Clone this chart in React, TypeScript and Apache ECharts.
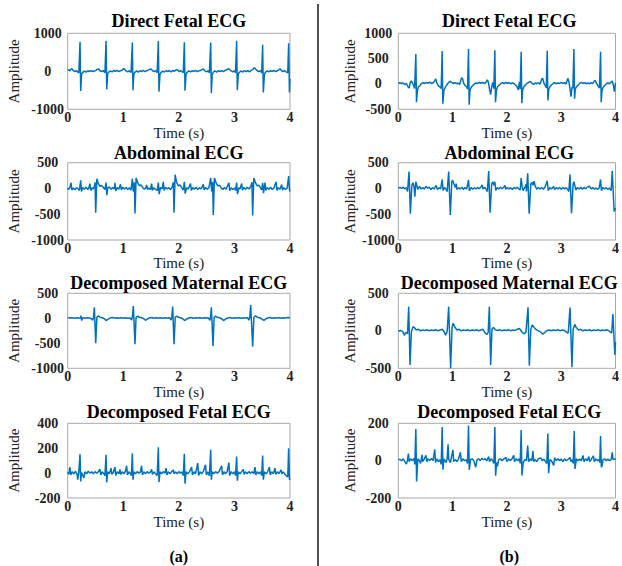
import React, { useEffect, useRef } from "react";
import * as echarts from "echarts";

type P = [number, number];

// ---------- data (time in s, amplitude) ----------
const directFetalA: P[] = [
  [0,25],[0.02,40],[0.04,10],[0.06,55],[0.08,65],[0.1,20],[0.13,-5],[0.16,15],[0.18,-20],[0.2,-45],[0.222,780],[0.234,-520],[0.25,-70],[0.27,-30],[0.3,5],[0.33,-20],[0.36,15],[0.39,-10],[0.42,20],[0.45,-5],[0.48,10],[0.51,25],[0.54,55],[0.56,60],[0.58,15],[0.61,-10],[0.64,20],[0.67,-40],[0.69,800],[0.702,-475],[0.72,-60],[0.74,-20],[0.77,10],[0.8,-15],[0.83,20],[0.86,0],[0.89,25],[0.92,-10],[0.95,15],[0.98,30],[1.0,65],[1.02,60],[1.05,10],[1.08,-15],[1.11,15],[1.14,-35],[1.163,755],[1.175,-500],[1.19,-75],[1.21,-25],[1.24,10],[1.27,-20],[1.3,15],[1.33,-5],[1.36,25],[1.39,-10],[1.42,15],[1.45,30],[1.48,55],[1.5,60],[1.53,15],[1.56,-10],[1.59,20],[1.61,-40],[1.631,800],[1.643,-535],[1.66,-80],[1.68,-30],[1.71,5],[1.74,-20],[1.77,20],[1.8,-5],[1.83,15],[1.86,-15],[1.89,20],[1.92,0],[1.95,40],[1.98,30],[2.01,-10],[2.04,15],[2.07,-20],[2.08,-40],[2.099,765],[2.111,-510],[2.13,-70],[2.15,-25],[2.18,10],[2.21,-15],[2.24,20],[2.27,-5],[2.3,25],[2.33,-10],[2.36,15],[2.39,20],[2.42,50],[2.44,60],[2.47,10],[2.5,-15],[2.53,15],[2.55,-45],[2.573,755],[2.585,-580],[2.6,-80],[2.62,-25],[2.65,10],[2.68,-20],[2.71,15],[2.74,-5],[2.77,20],[2.8,-10],[2.83,25],[2.86,40],[2.89,65],[2.91,55],[2.94,10],[2.97,-15],[3.0,15],[3.02,-40],[3.04,805],[3.052,-500],[3.07,-70],[3.09,-25],[3.12,10],[3.15,-20],[3.18,20],[3.21,-5],[3.24,15],[3.27,-15],[3.3,25],[3.33,45],[3.36,95],[3.38,60],[3.41,15],[3.44,-10],[3.47,20],[3.49,-45],[3.508,700],[3.52,-555],[3.54,-75],[3.56,-25],[3.59,10],[3.62,-15],[3.65,20],[3.68,-5],[3.71,25],[3.74,-10],[3.77,15],[3.8,40],[3.82,65],[3.84,30],[3.87,-10],[3.9,15],[3.93,-15],[3.96,-40],[3.976,735],[3.99,-560],[4.0,-200]
];

const directFetalB: P[] = [
  [0,10],[0.03,25],[0.06,5],[0.09,20],[0.12,-15],[0.15,10],[0.18,-60],[0.2,-80],[0.22,30],[0.24,60],[0.26,20],[0.28,-20],[0.3,-90],[0.323,590],[0.335,-360],[0.35,-150],[0.37,-60],[0.4,-30],[0.43,10],[0.46,25],[0.49,10],[0.52,30],[0.55,15],[0.58,35],[0.61,10],[0.64,25],[0.67,60],[0.69,100],[0.71,20],[0.74,-40],[0.77,-60],[0.79,-90],[0.808,650],[0.82,-390],[0.84,-120],[0.86,-80],[0.89,-20],[0.92,20],[0.95,55],[0.98,30],[1.01,10],[1.04,25],[1.07,5],[1.1,20],[1.13,-10],[1.16,110],[1.18,120],[1.2,20],[1.23,-30],[1.26,-60],[1.275,-100],[1.293,690],[1.305,-410],[1.32,-130],[1.34,-70],[1.37,-30],[1.4,0],[1.43,20],[1.46,10],[1.49,30],[1.52,15],[1.55,30],[1.58,10],[1.61,25],[1.64,80],[1.66,30],[1.68,-100],[1.7,-210],[1.72,-60],[1.74,30],[1.76,-90],[1.778,665],[1.79,-360],[1.81,-110],[1.83,-50],[1.86,-20],[1.89,10],[1.92,25],[1.95,5],[1.98,30],[2.01,15],[2.04,25],[2.07,5],[2.1,20],[2.13,10],[2.16,-20],[2.19,-60],[2.21,-120],[2.23,40],[2.245,-100],[2.263,635],[2.275,-380],[2.29,-120],[2.31,-60],[2.34,-20],[2.37,10],[2.4,30],[2.43,50],[2.46,15],[2.49,-10],[2.52,20],[2.55,5],[2.58,25],[2.61,-5],[2.64,95],[2.66,110],[2.68,20],[2.71,-40],[2.725,-80],[2.743,655],[2.755,-325],[2.77,-110],[2.79,-60],[2.82,-20],[2.85,10],[2.88,25],[2.91,5],[2.94,20],[2.97,10],[3.0,30],[3.03,10],[3.06,25],[3.09,0],[3.12,110],[3.14,60],[3.16,-80],[3.18,-250],[3.2,-60],[3.215,-90],[3.234,690],[3.246,-290],[3.26,-100],[3.28,-60],[3.31,-20],[3.34,10],[3.37,30],[3.4,10],[3.43,25],[3.46,5],[3.49,20],[3.52,0],[3.55,25],[3.58,10],[3.61,55],[3.63,70],[3.65,10],[3.68,-40],[3.705,-80],[3.725,635],[3.737,-360],[3.75,-140],[3.77,-70],[3.8,-30],[3.83,0],[3.86,20],[3.89,5],[3.92,40],[3.94,60],[3.96,-20],[3.98,-150],[4.0,20]
];

const abdominalA: P[] = [
  [0,10],[0.02,-20],[0.04,20],[0.06,110],[0.075,-30],[0.1,10],[0.13,-25],[0.16,15],[0.19,-10],[0.21,-40],[0.234,160],[0.248,-60],[0.27,20],[0.3,-15],[0.33,25],[0.36,-20],[0.38,10],[0.4,95],[0.415,-40],[0.44,15],[0.46,-10],[0.48,40],[0.492,120],[0.504,-470],[0.524,190],[0.55,100],[0.58,40],[0.61,60],[0.64,20],[0.67,-20],[0.69,115],[0.705,-130],[0.72,10],[0.75,30],[0.78,-15],[0.81,20],[0.84,-10],[0.85,110],[0.865,-50],[0.89,20],[0.92,-15],[0.95,80],[0.965,-30],[0.99,25],[1.02,-10],[1.05,20],[1.08,-20],[1.11,15],[1.14,-30],[1.163,190],[1.178,-60],[1.199,120],[1.211,-485],[1.231,205],[1.26,110],[1.29,50],[1.32,70],[1.35,20],[1.38,-15],[1.41,25],[1.42,70],[1.435,-20],[1.46,10],[1.49,-20],[1.51,95],[1.525,-40],[1.55,15],[1.58,-15],[1.61,-40],[1.631,115],[1.646,-110],[1.67,20],[1.7,-10],[1.72,130],[1.735,-40],[1.76,25],[1.79,-10],[1.82,15],[1.85,-20],[1.88,30],[1.901,120],[1.913,-470],[1.933,270],[1.96,120],[1.99,50],[2.02,70],[2.05,15],[2.08,-30],[2.099,130],[2.114,-100],[2.14,15],[2.17,-10],[2.21,95],[2.225,-40],[2.25,20],[2.28,-15],[2.31,25],[2.34,-20],[2.37,15],[2.4,-10],[2.44,80],[2.455,-30],[2.48,20],[2.51,-15],[2.54,10],[2.573,205],[2.59,-60],[2.608,130],[2.62,-515],[2.64,205],[2.67,110],[2.7,50],[2.73,65],[2.76,15],[2.79,-20],[2.82,20],[2.85,-15],[2.9,110],[2.915,-45],[2.94,15],[2.97,-20],[3.0,10],[3.02,-40],[3.04,115],[3.055,-110],[3.08,15],[3.1,-10],[3.13,95],[3.145,-35],[3.17,20],[3.2,-15],[3.23,25],[3.26,-10],[3.29,30],[3.316,120],[3.328,-525],[3.348,205],[3.38,110],[3.41,50],[3.44,65],[3.47,10],[3.49,-30],[3.508,110],[3.523,-90],[3.55,115],[3.565,-40],[3.59,20],[3.62,-15],[3.65,25],[3.68,-20],[3.71,10],[3.75,130],[3.765,-40],[3.79,15],[3.82,-15],[3.85,75],[3.865,-30],[3.89,15],[3.92,-20],[3.95,10],[3.976,240],[3.99,-20],[4.0,-60]
];

const abdominalB: P[] = [
  [0,10],[0.03,20],[0.06,0],[0.09,25],[0.12,-10],[0.15,15],[0.17,-60],[0.198,330],[0.222,-490],[0.25,60],[0.27,110],[0.29,40],[0.305,-160],[0.323,130],[0.34,60],[0.36,-20],[0.39,40],[0.42,-10],[0.45,20],[0.48,-15],[0.51,40],[0.54,5],[0.57,25],[0.6,-20],[0.63,15],[0.66,-10],[0.695,60],[0.72,-20],[0.75,15],[0.78,-10],[0.808,175],[0.825,-40],[0.85,20],[0.88,-15],[0.9,-60],[0.928,330],[0.958,-515],[0.985,130],[1.0,160],[1.02,100],[1.05,20],[1.066,95],[1.08,-20],[1.11,15],[1.14,-10],[1.17,25],[1.2,-20],[1.23,20],[1.26,-10],[1.293,165],[1.31,-50],[1.34,20],[1.37,-15],[1.4,15],[1.43,-10],[1.46,20],[1.49,-5],[1.52,25],[1.545,70],[1.56,-10],[1.59,20],[1.62,-15],[1.64,-60],[1.665,340],[1.69,-470],[1.72,90],[1.74,130],[1.76,60],[1.778,130],[1.795,-40],[1.82,20],[1.85,-10],[1.88,25],[1.91,-5],[1.94,20],[1.964,60],[1.98,-15],[2.01,20],[2.04,-10],[2.07,15],[2.1,-20],[2.13,20],[2.16,-5],[2.19,25],[2.22,-10],[2.245,-30],[2.263,200],[2.28,40],[2.3,-40],[2.33,20],[2.353,80],[2.36,-60],[2.383,295],[2.41,-490],[2.44,80],[2.46,120],[2.48,60],[2.5,140],[2.52,50],[2.55,-15],[2.58,20],[2.61,-10],[2.64,20],[2.67,-15],[2.7,25],[2.743,150],[2.76,-40],[2.79,15],[2.82,-10],[2.86,40],[2.88,-20],[2.91,15],[2.94,-10],[2.97,20],[3.0,-15],[3.03,20],[3.06,-10],[3.09,15],[3.12,-20],[3.14,-60],[3.162,275],[3.19,-480],[3.22,90],[3.234,130],[3.25,60],[3.27,-30],[3.3,20],[3.33,-10],[3.36,25],[3.39,-15],[3.42,20],[3.45,-5],[3.48,25],[3.52,45],[3.55,-10],[3.58,20],[3.61,-15],[3.64,10],[3.67,-20],[3.7,10],[3.725,175],[3.74,-40],[3.77,20],[3.8,-10],[3.83,15],[3.86,-20],[3.89,10],[3.92,-40],[3.94,340],[3.975,-445],[4.0,-380]
];

const maternalA: P[] = [
  [0,15],[0.04,5],[0.08,10],[0.12,0],[0.16,12],[0.2,5],[0.23,10],[0.24,50],[0.25,-45],[0.27,10],[0.31,0],[0.35,12],[0.39,5],[0.43,-10],[0.45,-40],[0.465,30],[0.48,220],[0.504,-500],[0.525,20],[0.55,50],[0.58,20],[0.62,10],[0.66,-10],[0.69,-45],[0.72,-20],[0.76,5],[0.8,15],[0.84,5],[0.88,12],[0.92,0],[0.96,10],[1.0,5],[1.04,12],[1.08,0],[1.12,5],[1.15,-35],[1.165,30],[1.181,247],[1.211,-520],[1.23,20],[1.26,45],[1.29,20],[1.33,10],[1.37,-10],[1.4,-40],[1.43,-15],[1.47,5],[1.51,15],[1.55,0],[1.59,10],[1.63,5],[1.67,12],[1.71,0],[1.75,10],[1.79,5],[1.83,10],[1.86,-35],[1.873,30],[1.889,233],[1.913,-520],[1.935,20],[1.96,45],[1.99,20],[2.03,10],[2.07,-10],[2.11,-45],[2.14,-15],[2.18,5],[2.22,15],[2.26,0],[2.3,10],[2.34,5],[2.38,12],[2.42,0],[2.46,10],[2.5,5],[2.53,10],[2.56,-40],[2.57,30],[2.585,220],[2.615,-553],[2.635,20],[2.66,45],[2.69,20],[2.73,10],[2.77,-10],[2.81,-45],[2.84,-15],[2.88,5],[2.92,15],[2.96,0],[3.0,10],[3.04,5],[3.08,12],[3.12,0],[3.16,10],[3.2,5],[3.24,10],[3.26,-40],[3.278,30],[3.293,267],[3.328,-567],[3.35,20],[3.38,50],[3.41,20],[3.45,10],[3.49,-10],[3.53,-40],[3.56,-15],[3.6,5],[3.64,15],[3.68,0],[3.72,10],[3.76,5],[3.8,12],[3.84,0],[3.88,10],[3.92,5],[3.96,15],[4.0,10]
];

const maternalB: P[] = [
  [0,-5],[0.04,5],[0.08,-10],[0.11,-60],[0.14,-20],[0.17,-40],[0.192,322],[0.216,-455],[0.24,-20],[0.27,55],[0.3,40],[0.33,10],[0.37,20],[0.41,0],[0.45,12],[0.49,5],[0.53,15],[0.57,0],[0.61,10],[0.65,5],[0.69,15],[0.73,0],[0.77,10],[0.81,20],[0.85,-20],[0.87,-60],[0.9,-10],[0.928,322],[0.964,-500],[0.99,40],[1.01,100],[1.04,50],[1.08,10],[1.12,20],[1.16,0],[1.2,10],[1.24,5],[1.28,15],[1.32,0],[1.36,10],[1.4,5],[1.44,15],[1.48,0],[1.52,10],[1.56,20],[1.6,-30],[1.63,-50],[1.655,-20],[1.677,322],[1.701,-455],[1.725,20],[1.75,45],[1.79,15],[1.83,5],[1.87,15],[1.91,0],[1.95,10],[1.99,5],[2.03,15],[2.07,0],[2.11,10],[2.15,5],[2.19,20],[2.23,30],[2.27,-10],[2.31,-40],[2.35,-20],[2.389,313],[2.413,-464],[2.44,20],[2.47,80],[2.5,45],[2.54,15],[2.58,0],[2.62,-15],[2.66,-45],[2.7,-20],[2.74,5],[2.78,10],[2.82,0],[2.86,10],[2.9,5],[2.94,15],[2.98,0],[3.02,10],[3.06,5],[3.1,-20],[3.13,-30],[3.162,309],[3.198,-487],[3.22,20],[3.25,85],[3.28,40],[3.32,10],[3.36,20],[3.4,0],[3.44,10],[3.48,5],[3.52,15],[3.56,0],[3.6,10],[3.64,5],[3.68,15],[3.72,0],[3.76,10],[3.8,5],[3.84,15],[3.88,0],[3.91,-20],[3.93,-30],[3.952,224],[3.988,-322],[4.0,-150]
];

const fetalA: P[] = [
  [0,5],[0.02,-10],[0.04,48],[0.055,-15],[0.08,10],[0.11,-5],[0.14,15],[0.17,-10],[0.18,-53],[0.2,10],[0.222,152],[0.234,-67],[0.25,5],[0.27,-15],[0.29,-40],[0.31,10],[0.34,-5],[0.37,15],[0.4,0],[0.43,10],[0.46,-5],[0.49,12],[0.52,0],[0.55,10],[0.58,32],[0.595,-15],[0.62,10],[0.65,-5],[0.67,-20],[0.69,147],[0.702,-75],[0.72,10],[0.75,-5],[0.78,40],[0.795,-10],[0.82,5],[0.85,48],[0.865,-20],[0.89,10],[0.92,-5],[0.94,30],[0.955,-10],[0.98,10],[1.01,-5],[1.04,15],[1.06,59],[1.075,-15],[1.1,10],[1.13,-5],[1.145,-20],[1.163,160],[1.175,-53],[1.19,10],[1.22,-5],[1.25,12],[1.28,0],[1.31,10],[1.33,59],[1.345,-15],[1.37,10],[1.4,-5],[1.43,12],[1.46,0],[1.49,10],[1.51,30],[1.525,-10],[1.55,10],[1.58,-5],[1.61,-20],[1.631,208],[1.643,-72],[1.66,10],[1.69,-5],[1.72,12],[1.75,0],[1.77,40],[1.785,-15],[1.81,10],[1.84,-5],[1.87,12],[1.9,25],[1.915,-5],[1.94,10],[1.97,-5],[2.0,12],[2.03,0],[2.06,10],[2.08,-20],[2.099,155],[2.111,-85],[2.13,10],[2.16,-5],[2.19,10],[2.23,48],[2.245,-15],[2.27,10],[2.3,-5],[2.34,80],[2.355,-20],[2.38,10],[2.41,-5],[2.44,12],[2.48,67],[2.495,-15],[2.52,10],[2.55,-20],[2.573,187],[2.585,-53],[2.6,10],[2.63,-5],[2.66,12],[2.69,0],[2.72,10],[2.77,59],[2.785,-15],[2.81,10],[2.84,-5],[2.87,12],[2.9,85],[2.915,-20],[2.94,10],[2.97,-5],[3.0,10],[3.02,-20],[3.04,133],[3.052,-61],[3.07,10],[3.1,-5],[3.13,12],[3.16,30],[3.175,-10],[3.2,10],[3.23,-5],[3.26,12],[3.29,0],[3.32,10],[3.35,-5],[3.37,48],[3.385,-15],[3.41,10],[3.44,-5],[3.47,12],[3.49,-20],[3.508,141],[3.52,-53],[3.54,10],[3.57,-5],[3.6,12],[3.63,48],[3.645,-15],[3.67,10],[3.7,-5],[3.73,40],[3.745,-10],[3.77,10],[3.8,-5],[3.84,25],[3.855,-5],[3.88,10],[3.91,-10],[3.94,-25],[3.96,-30],[3.976,200],[3.99,-53],[4.0,-40]
];

const fetalB: P[] = [
  [0,8],[0.03,5],[0.06,0],[0.09,10],[0.12,-5],[0.15,-19],[0.17,5],[0.186,38],[0.2,-5],[0.23,10],[0.26,0],[0.29,12],[0.305,-20],[0.323,170],[0.337,-111],[0.36,10],[0.39,0],[0.41,-15],[0.437,31],[0.45,-5],[0.48,10],[0.509,28],[0.525,-5],[0.55,10],[0.58,0],[0.61,12],[0.64,0],[0.671,60],[0.685,-10],[0.71,10],[0.74,-5],[0.77,5],[0.79,-20],[0.808,180],[0.822,-49],[0.84,10],[0.86,0],[0.88,-10],[0.9,10],[0.916,88],[0.93,5],[0.96,-10],[0.98,20],[1.006,58],[1.02,-5],[1.05,5],[1.08,-5],[1.11,10],[1.144,45],[1.16,-5],[1.19,10],[1.22,0],[1.25,5],[1.275,-15],[1.293,188],[1.307,-49],[1.33,5],[1.36,10],[1.39,0],[1.425,-35],[1.45,5],[1.48,10],[1.51,0],[1.54,12],[1.57,5],[1.6,10],[1.63,0],[1.665,22],[1.68,-5],[1.71,10],[1.74,0],[1.76,-15],[1.778,180],[1.792,-81],[1.81,-10],[1.826,-30],[1.85,5],[1.88,10],[1.91,0],[1.94,8],[1.982,17],[2.0,-5],[2.03,10],[2.06,0],[2.09,8],[2.126,28],[2.14,-5],[2.17,10],[2.2,0],[2.23,10],[2.245,-15],[2.263,164],[2.277,-79],[2.3,-10],[2.33,5],[2.36,0],[2.383,81],[2.4,-5],[2.43,10],[2.46,0],[2.479,52],[2.495,-5],[2.52,5],[2.55,-5],[2.58,10],[2.623,15],[2.65,0],[2.68,8],[2.71,-5],[2.735,-15],[2.754,145],[2.768,-67],[2.79,5],[2.82,0],[2.862,-25],[2.88,15],[2.91,0],[2.94,10],[2.97,0],[3.0,8],[3.03,-5],[3.06,10],[3.09,0],[3.12,5],[3.162,17],[3.18,-5],[3.2,5],[3.222,-15],[3.24,159],[3.254,-44],[3.28,10],[3.31,0],[3.34,8],[3.37,0],[3.401,28],[3.42,-5],[3.45,10],[3.48,0],[3.509,22],[3.525,-5],[3.55,5],[3.593,25],[3.61,-5],[3.64,10],[3.67,0],[3.7,5],[3.71,-10],[3.725,132],[3.739,-35],[3.75,-30],[3.77,5],[3.8,10],[3.83,0],[3.86,8],[3.89,0],[3.92,5],[3.94,45],[3.955,5],[3.98,10],[4.0,5]
];

const panelTitles = [
  "Direct Fetal ECG", "Direct Fetal ECG",
  "Abdominal ECG", "Abdominal ECG",
  "Decomposed Maternal ECG", "Decomposed Maternal ECG",
  "Decomposed Fetal ECG", "Decomposed Fetal ECG",
];
const panelSeries = [directFetalA, directFetalB, abdominalA, abdominalB, maternalA, maternalB, fetalA, fetalB];
const yMins = [-1000, -500, -1000, -1000, -1000, -500, -200, -200];
const yMaxs = [1000, 1000, 500, 500, 500, 500, 400, 200];
const yIntervals = [1000, 500, 500, 500, 500, 500, 200, 200];
const xMin = 0;
const xMax = 4;
const xInterval = 1;
const columnLabels = ["(a)", "(b)"];

// ---------- layout ----------
const FONT = "'Liberation Serif', 'Times New Roman', Times, serif";
const colLeft = [67.7, 398.3];
const colWidth = [222.3, 222];
const rowTop = [33.3, 162.7, 293.3, 423.3];
const rowHeight = [76, 77.3, 75, 74.7];
const timeGap = [12.5, 12, 12.5, 16];
const titleY = [21, 153.3, 283.3, 411.8];
const ampGap = [46, 41];

export default function App() {
  const ref = useRef<HTMLDivElement>(null);
  useEffect(() => {
    if (!ref.current) return;
    const chart = echarts.init(ref.current, undefined, { renderer: "svg" });
    const grids: any[] = [];
    const xAxes: any[] = [];
    const yAxes: any[] = [];
    const series: any[] = [];
    const graphics: any[] = [];
    const plain = (v: number) => String(v);
    for (let i = 0; i < 8; i++) {
      const col = i % 2;
      const row = Math.floor(i / 2);
      grids.push({
        left: colLeft[col], top: rowTop[row], width: colWidth[col], height: rowHeight[row],
        show: true, borderColor: "#a8a8a8", borderWidth: 1, backgroundColor: "transparent",
        containLabel: false,
      });
      xAxes.push({
        type: "value", gridIndex: i, min: xMin, max: xMax, interval: xInterval,
        axisLine: { show: false }, axisTick: { show: false }, splitLine: { show: false },
        axisLabel: { fontFamily: FONT, fontWeight: "bold", fontSize: 14, color: "#222", margin: 1, formatter: plain },
        name: "Time (s)", nameLocation: "middle", nameGap: timeGap[row],
        nameTextStyle: { fontFamily: FONT, fontSize: 15, color: "#222" },
      });
      yAxes.push({
        type: "value", gridIndex: i, min: yMins[i], max: yMaxs[i], interval: yIntervals[i],
        axisLine: { show: false }, axisTick: { show: false }, splitLine: { show: false },
        axisLabel: { fontFamily: FONT, fontWeight: "bold", fontSize: 14, color: "#222", margin: 20, align: "center", formatter: plain },
        name: "Amplitude", nameLocation: "middle", nameGap: ampGap[col],
        nameTextStyle: { fontFamily: FONT, fontSize: 15, color: "#222" },
      });
      series.push({
        type: "line", xAxisIndex: i, yAxisIndex: i, data: panelSeries[i],
        showSymbol: false, symbol: "none", clip: true,
        lineStyle: { color: "#0072BD", width: 1.5 }, itemStyle: { color: "#0072BD" },
      });
      graphics.push({
        type: "text", x: colLeft[col] + colWidth[col] / 2, y: titleY[row],
        style: {
          text: panelTitles[i], fontFamily: FONT, fontWeight: "bold", fontSize: 18,
          fill: "#000", align: "center", verticalAlign: "middle",
        },
      });
    }
    graphics.push({
      type: "line", shape: { x1: 318, y1: 4, x2: 318, y2: 566 },
      style: { stroke: "#505050", lineWidth: 2 },
    });
    columnLabels.forEach((lbl, c) => {
      graphics.push({
        type: "text", x: colLeft[c] + colWidth[c] / 2, y: 556,
        style: {
          text: lbl, fontFamily: FONT, fontWeight: "bold", fontSize: 16,
          fill: "#000", align: "center", verticalAlign: "middle",
        },
      });
    });
    chart.setOption({
      animation: false,
      backgroundColor: "#fff",
      grid: grids, xAxis: xAxes, yAxis: yAxes, series, graphic: graphics,
    });
    return () => chart.dispose();
  }, []);
  return (
    <div
      ref={ref}
      style={{ position: "fixed", left: 0, top: 0, width: 622, height: 566, background: "#fff" }}
    />
  );
}
